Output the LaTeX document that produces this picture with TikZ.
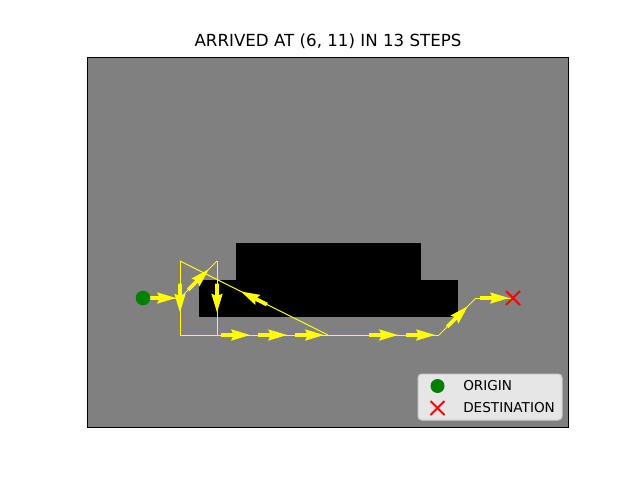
\documentclass[tikz,border=0pt]{standalone}
\usepackage{fontspec}
\setmainfont{DejaVu Sans}
\usetikzlibrary{calc}
\definecolor{qyellow}{RGB}{255,255,0}
\definecolor{qgrey}{RGB}{128,128,128}
\definecolor{qgreen}{RGB}{0,128,0}
\definecolor{qred}{RGB}{255,0,0}
\definecolor{legfill}{RGB}{230,230,230}
\definecolor{legedge}{RGB}{204,204,204}
\tikzset{
  pathline/.style={draw=qyellow,line width=0.75pt},
  obstacle/.style={fill=black},
  axesframe/.style={draw=black,line width=0.83pt,fill=qgrey},
  legframe/.style={draw=legedge,fill=legfill,line width=0.75pt,rounded corners=2.8},
  legtext/.style={anchor=west,inner sep=0pt,font=\fontsize{10.2}{12}\selectfont},
  origmark/.style={fill=qgreen,draw=none},
  destmark/.style={draw=qred,line width=1.5pt},
  qarrow/.pic={\fill[qyellow] (-14.5,-1.9) -- (-2.6,-1.9) -- (-4.5,-5.7) -- (14.5,0) -- (-4.5,5.7) -- (-2.6,1.9) -- (-14.5,1.9) -- cycle;}
}
\begin{document}
\begin{tikzpicture}[x=0.75pt,y=0.75pt]
\useasboundingbox (0,0) rectangle (640,480);
\fill[white] (0,0) rectangle (640,480);
% axes
\draw[axesframe] (87.5,52.5) rectangle (568.5,422.5);
% obstacles
\fill[obstacle] (235.5,237.5) rectangle (420.5,200.5);
\fill[obstacle] (198.5,200.5) rectangle (457.5,163.5);
% path points
\coordinate (O) at (143,182);
\coordinate (A) at (180,182);
\coordinate (B) at (217,219);
\coordinate (C) at (217,145);
\coordinate (D) at (180,219);
\coordinate (E) at (180,145);
\coordinate (F) at (328,145);
\coordinate (G) at (439,145);
\coordinate (H) at (476,182);
\coordinate (T) at (513,182);
% path lines
\draw[pathline] (O) -- (A);
\draw[pathline] (A) -- (B);
\draw[pathline] (B) -- (C);
\draw[pathline] (D) -- (E);
\draw[pathline] (D) -- (F);
\draw[pathline] (E) -- (G);
\draw[pathline] (G) -- (H);
\draw[pathline] (H) -- (T);
% arrows
\pic at ($(O)!.5!(A)$) {qarrow};
\pic[rotate=45] at ($(A)!.5!(B)$) {qarrow};
\pic[rotate=-90] at ($(D)!.5!(E)$) {qarrow};
\pic[rotate=-90] at ($(B)!.5!(C)$) {qarrow};
\pic[rotate=153.43] at ($(D)!.5!(F)$) {qarrow};
\pic at (235.5,145) {qarrow};
\pic at (272.5,145) {qarrow};
\pic at (309.5,145) {qarrow};
\pic at (383.5,145) {qarrow};
\pic at (420.5,145) {qarrow};
\pic[rotate=45] at ($(G)!.5!(H)$) {qarrow};
\pic at ($(H)!.5!(T)$) {qarrow};
% markers
\fill[origmark] (O) circle (7.3);
\draw[destmark] ($(T)+(-7,-7)$) -- ($(T)+(7,7)$);
\draw[destmark] ($(T)+(-7,7)$) -- ($(T)+(7,-7)$);
% title
\node[anchor=base,inner sep=0pt,font=\fontsize{12.5}{15}\selectfont] (title) at (328,434) {ARRIVED AT (6, 11) IN 13 STEPS};
% legend
\draw[legframe] (418,60) rectangle (562,106);
\coordinate (LO) at (437.5,94);
\coordinate (LD) at (437.5,72);
\fill[origmark] (LO) circle (7);
\draw[destmark] ($(LD)+(-7,-7)$) -- ($(LD)+(7,7)$);
\draw[destmark] ($(LD)+(-7,7)$) -- ($(LD)+(7,-7)$);
\node[legtext] (lo) at (463,94) {ORIGIN};
\node[legtext] (ld) at (463,72) {DESTINATION};
\end{tikzpicture}
\end{document}
